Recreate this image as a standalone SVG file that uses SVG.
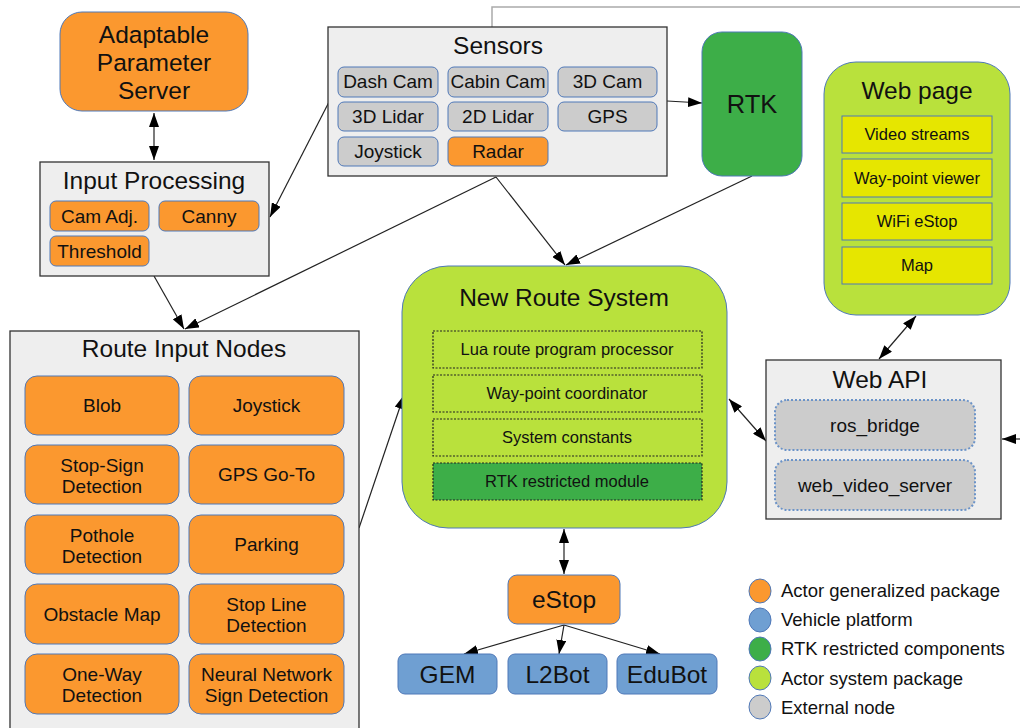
<svg xmlns="http://www.w3.org/2000/svg" width="1020" height="728" viewBox="0 0 1020 728">
  <style>
    text { font-family: "Liberation Sans", Arial, sans-serif; fill: #111; text-anchor: middle; }
    .t24 { font-size: 24.5px; }
    .t18 { font-size: 19px; }
    .t16 { font-size: 16.5px; }
    .leg { font-size: 18.5px; text-anchor: start; }
    .container { fill: #eeeeee; stroke: #333; stroke-width: 1.3; }
    .orange { fill: #fb982f; stroke: #4f78b8; stroke-width: 1; }
    .gray { fill: #cccccc; stroke: #4f78b8; stroke-width: 1; }
    .green { fill: #3dae48; stroke: #4f78b8; stroke-width: 1; }
    .lime { fill: #b9e13c; stroke: #4f78b8; stroke-width: 1; }
    .blue { fill: #6f9fd2; stroke: #4f78b8; stroke-width: 1; }
    .yellow { fill: #e6e600; stroke: #4f78b8; stroke-width: 1; }
    .dotted { fill: none; stroke: #222; stroke-width: 1.2; stroke-dasharray: 2 1.5; }
    .dotted-green { fill: #3dae48; stroke: #222; stroke-width: 1.2; stroke-dasharray: 2 1.5; }
    .ext { fill: #cccccc; stroke: #6b93c8; stroke-width: 2; stroke-dasharray: 2 2; }
    .edge2 { fill: none; stroke: #222; stroke-width: 1.2; marker-end: url(#arrow); marker-start: url(#arrowStart); }
    .edge1 { fill: none; stroke: #222; stroke-width: 1.2; marker-end: url(#arrow); }
  </style>
  <defs>
    <marker id="arrow" viewBox="0 0 14 10" refX="14" refY="5" markerWidth="14" markerHeight="10" markerUnits="userSpaceOnUse" orient="auto">
      <path d="M0,0 L14,5 L0,10 z" fill="#000"/>
    </marker>
    <marker id="arrowStart" viewBox="0 0 14 10" refX="0" refY="5" markerWidth="14" markerHeight="10" markerUnits="userSpaceOnUse" orient="auto">
      <path d="M14,0 L0,5 L14,10 z" fill="#000"/>
    </marker>
  </defs>

  <rect width="1020" height="728" fill="#ffffff"/>

  <!-- connectors -->
  <g id="connectors">
    <polyline points="492,27 492,7 1020,7" fill="none" stroke="#aaaaaa" stroke-width="1.5"/>
    <line class="edge2" x1="154" y1="113" x2="154" y2="160"/>
    <line class="edge1" x1="329" y1="102" x2="270" y2="217"/>
    <line class="edge1" x1="154" y1="276" x2="184" y2="329"/>
    <line class="edge1" x1="496" y1="177" x2="185" y2="329"/>
    <line class="edge1" x1="496" y1="177" x2="565" y2="265"/>
    <line class="edge1" x1="752" y1="176" x2="566" y2="265"/>
    <line class="edge1" x1="667" y1="101" x2="702" y2="103"/>
    <line class="edge1" x1="359" y1="528" x2="404" y2="395"/>
    <line class="edge2" x1="729" y1="399" x2="766" y2="441"/>
    <line class="edge2" x1="916" y1="316" x2="879" y2="359"/>
    <line class="edge1" x1="1020" y1="439" x2="1002" y2="439"/>
    <line class="edge2" x1="564" y1="529" x2="564" y2="574"/>
    <line class="edge1" x1="564" y1="625" x2="464" y2="654"/>
    <line class="edge1" x1="564" y1="625" x2="559" y2="654"/>
    <line class="edge1" x1="564" y1="625" x2="660" y2="654"/>
  </g>

  <!-- Adaptable Parameter Server -->
  <g id="adaptable-parameter-server">
    <rect class="orange" x="60" y="12" width="188" height="99" rx="22"/>
    <text class="t24" x="154" y="43">Adaptable</text>
    <text class="t24" x="154" y="71">Parameter</text>
    <text class="t24" x="154" y="99">Server</text>
  </g>

  <!-- Input Processing -->
  <g id="input-processing">
    <rect class="container" x="40" y="162" width="229" height="114"/>
    <text class="t24" x="154" y="189">Input Processing</text>
    <rect class="orange" x="50" y="201" width="99" height="30" rx="6"/>
    <text class="t18" x="99.5" y="223">Cam Adj.</text>
    <rect class="orange" x="159" y="201" width="100" height="30" rx="6"/>
    <text class="t18" x="209" y="223">Canny</text>
    <rect class="orange" x="50" y="236" width="99" height="30" rx="6"/>
    <text class="t18" x="99.5" y="258">Threshold</text>
  </g>

  <!-- Sensors -->
  <g id="sensors">
    <rect class="container" x="328" y="27" width="339" height="149"/>
    <text class="t24" x="498" y="54">Sensors</text>
    <rect class="gray" x="338" y="67" width="100" height="30" rx="6"/>
    <text class="t18" x="388" y="88">Dash Cam</text>
    <rect class="gray" x="448" y="67" width="100" height="30" rx="6"/>
    <text class="t18" x="498" y="88">Cabin Cam</text>
    <rect class="gray" x="558" y="67" width="99" height="30" rx="6"/>
    <text class="t18" x="607.5" y="88">3D Cam</text>
    <rect class="gray" x="338" y="102" width="100" height="29" rx="6"/>
    <text class="t18" x="388" y="123">3D Lidar</text>
    <rect class="gray" x="448" y="102" width="100" height="29" rx="6"/>
    <text class="t18" x="498" y="123">2D Lidar</text>
    <rect class="gray" x="558" y="102" width="99" height="29" rx="6"/>
    <text class="t18" x="607.5" y="123">GPS</text>
    <rect class="gray" x="338" y="137" width="100" height="29" rx="6"/>
    <text class="t18" x="388" y="158">Joystick</text>
    <rect class="orange" x="448" y="137" width="100" height="29" rx="6"/>
    <text class="t18" x="498" y="158">Radar</text>
  </g>

  <!-- RTK -->
  <g id="rtk">
    <rect class="green" x="702" y="32" width="100" height="144" rx="20"/>
    <text class="t24" x="752" y="113" style="font-size:25.5px">RTK</text>
  </g>

  <!-- Web page -->
  <g id="web-page">
    <rect class="lime" x="824" y="62" width="186" height="253" rx="32"/>
    <text class="t24" x="917" y="99">Web page</text>
    <rect class="yellow" x="842" y="116" width="150" height="37"/>
    <text class="t16" x="917" y="140">Video streams</text>
    <rect class="yellow" x="842" y="159" width="150" height="38"/>
    <text class="t16" x="917" y="184">Way-point viewer</text>
    <rect class="yellow" x="842" y="203" width="150" height="37"/>
    <text class="t16" x="917" y="227">WiFi eStop</text>
    <rect class="yellow" x="842" y="247" width="150" height="37"/>
    <text class="t16" x="917" y="271">Map</text>
  </g>

  <!-- New Route System -->
  <g id="new-route-system">
    <rect class="lime" x="402" y="266" width="325" height="262" rx="46"/>
    <text class="t24" x="564" y="306">New Route System</text>
    <rect class="dotted" x="433" y="331" width="269" height="37"/>
    <text class="t16" x="567" y="355">Lua route program processor</text>
    <rect class="dotted" x="433" y="375" width="269" height="37"/>
    <text class="t16" x="567" y="399">Way-point coordinator</text>
    <rect class="dotted" x="433" y="419" width="269" height="37"/>
    <text class="t16" x="567" y="443">System constants</text>
    <rect class="dotted-green" x="433" y="463" width="269" height="37"/>
    <text class="t16" x="567" y="487">RTK restricted module</text>
  </g>

  <!-- Web API -->
  <g id="web-api">
    <rect class="container" x="766" y="360" width="235" height="159"/>
    <text class="t24" x="880" y="388">Web API</text>
    <rect class="ext" x="775" y="400" width="200" height="50" rx="12"/>
    <text class="t18" x="875" y="432">ros_bridge</text>
    <rect class="ext" x="775" y="460" width="200" height="50" rx="12"/>
    <text class="t18" x="875" y="492">web_video_server</text>
  </g>

  <!-- Route Input Nodes -->
  <g id="route-input-nodes">
    <rect class="container" x="10" y="331" width="349" height="410"/>
    <text class="t24" x="184" y="357">Route Input Nodes</text>
    <rect class="orange" x="25" y="376" width="154" height="59" rx="12"/>
    <text class="t18" x="102" y="412">Blob</text>
    <rect class="orange" x="189" y="376" width="155" height="59" rx="12"/>
    <text class="t18" x="266.5" y="412">Joystick</text>
    <rect class="orange" x="25" y="445" width="154" height="59" rx="12"/>
    <text class="t18" x="102" y="472">Stop-Sign</text>
    <text class="t18" x="102" y="493">Detection</text>
    <rect class="orange" x="189" y="445" width="155" height="59" rx="12"/>
    <text class="t18" x="266.5" y="481">GPS Go-To</text>
    <rect class="orange" x="25" y="515" width="154" height="59" rx="12"/>
    <text class="t18" x="102" y="542">Pothole</text>
    <text class="t18" x="102" y="563">Detection</text>
    <rect class="orange" x="189" y="515" width="155" height="59" rx="12"/>
    <text class="t18" x="266.5" y="551">Parking</text>
    <rect class="orange" x="25" y="584" width="154" height="60" rx="12"/>
    <text class="t18" x="102" y="621">Obstacle Map</text>
    <rect class="orange" x="189" y="584" width="155" height="60" rx="12"/>
    <text class="t18" x="266.5" y="611">Stop Line</text>
    <text class="t18" x="266.5" y="632">Detection</text>
    <rect class="orange" x="25" y="654" width="154" height="60" rx="12"/>
    <text class="t18" x="102" y="681">One-Way</text>
    <text class="t18" x="102" y="702">Detection</text>
    <rect class="orange" x="189" y="654" width="155" height="60" rx="12"/>
    <text class="t18" x="266.5" y="681">Neural Network</text>
    <text class="t18" x="266.5" y="702">Sign Detection</text>
  </g>

  <!-- eStop -->
  <g id="estop">
    <rect class="orange" x="508" y="575" width="112" height="49" rx="9"/>
    <text class="t24" x="564" y="608">eStop</text>
  </g>

  <!-- vehicle platforms -->
  <g id="gem">
    <rect class="blue" x="398" y="654" width="99" height="40" rx="7"/>
    <text class="t24" x="447.5" y="683">GEM</text>
  </g>
  <g id="l2bot">
    <rect class="blue" x="508" y="654" width="99" height="40" rx="7"/>
    <text class="t24" x="557.5" y="683">L2Bot</text>
  </g>
  <g id="edubot">
    <rect class="blue" x="617" y="654" width="100" height="40" rx="7"/>
    <text class="t24" x="667" y="683">EduBot</text>
  </g>

  <!-- legend -->
  <g id="legend">
    <ellipse class="orange" cx="760" cy="591" rx="11" ry="12"/>
    <text class="leg" x="781" y="597">Actor generalized package</text>
    <ellipse class="blue" cx="760" cy="620" rx="11" ry="12"/>
    <text class="leg" x="781" y="626">Vehicle platform</text>
    <ellipse class="green" cx="760" cy="649" rx="11" ry="12"/>
    <text class="leg" x="781" y="655">RTK restricted components</text>
    <ellipse class="lime" cx="760" cy="678" rx="11" ry="12"/>
    <text class="leg" x="781" y="685">Actor system package</text>
    <ellipse class="gray" cx="760" cy="707" rx="11" ry="12"/>
    <text class="leg" x="781" y="714">External node</text>
  </g>
</svg>
